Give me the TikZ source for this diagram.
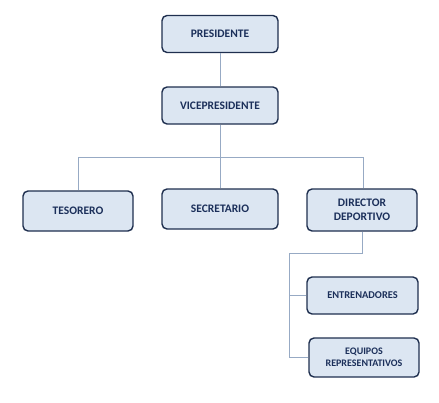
\documentclass[tikz,border=0pt]{standalone}
\usepackage{fontspec}
\setmainfont{Carlito}
\definecolor{boxfill}{HTML}{DCE6F2}
\definecolor{boxdraw}{HTML}{1F2F4F}
\definecolor{txt}{HTML}{1B2F5A}
\definecolor{conn}{HTML}{97AAC4}
\begin{document}
\begin{tikzpicture}[x=1pt,y=-1pt,
  box/.style={draw=boxdraw,fill=boxfill,line width=1.4pt,rounded corners=5pt,
    text=txt,font=\bfseries\fontsize{11.5}{14.5}\selectfont,align=center,inner sep=0pt},
  conline/.style={draw=conn,line width=0.9pt}]
\useasboundingbox (0,0) rectangle (439,402);
\node[box,minimum width=116pt,minimum height=37pt] (pres) at (220,34) {PRESIDENTE};
\node[box,minimum width=116pt,minimum height=37pt] (vice) at (220,105.5) {VICEPRESIDENTE};
\node[box,minimum width=110pt,minimum height=40pt] (tes) at (78,211) {TESORERO};
\node[box,minimum width=116pt,minimum height=40pt] (sec) at (220,209) {SECRETARIO};
\node[box,minimum width=110pt,minimum height=42pt] (dir) at (362,210) {DIRECTOR\\DEPORTIVO};
\node[box,minimum width=111pt,minimum height=37pt,font=\bfseries\fontsize{10.4}{12}\selectfont] (ent) at (362.5,295.5) {ENTRENADORES};
\node[box,minimum width=110pt,minimum height=39pt,font=\bfseries\fontsize{10}{12}\selectfont] (equ) at (364,357.5) {EQUIPOS\\REPRESENTATIVOS};
\coordinate (hl) at (78,157);
\coordinate (hr) at (363,157);
\coordinate (dl) at (289,253);
\draw[conline] (pres.south) -- (vice.north);
\draw[conline] (vice.south) -- (sec.north);
\draw[conline] (tes.north) -- (hl) -- (hr) -- (hr |- dir.north);
\draw[conline] (dir.south) -- (dir.south |- dl) -- (dl) -- (dl |- equ.west) -- (equ.west);
\draw[conline] (dl |- ent.west) -- (ent.west);
\end{tikzpicture}
\end{document}
